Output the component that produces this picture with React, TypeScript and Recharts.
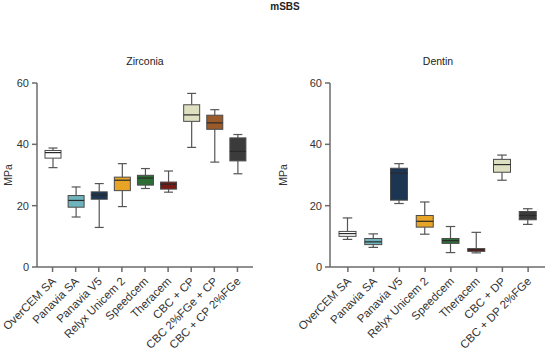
import React from 'react';
import { BarChart, Bar, XAxis, YAxis, Label } from 'recharts';

const zirconiaCategories = ['OverCEM SA', 'Panavia SA', 'Panavia V5', 'Relyx Unicem 2', 'Speedcem', 'Theracem', 'CBC + CP', 'CBC 2%FGe + CP', 'CBC + CP 2%FGe'];
const zirconiaMin = [32.4, 16.3, 12.9, 19.7, 25.6, 24.4, 39.0, 34.2, 30.4];
const zirconiaQ1 = [35.5, 19.5, 22.1, 24.9, 26.7, 25.4, 47.5, 44.9, 34.6];
const zirconiaMedian = [37.3, 21.7, 23.5, 28.3, 29.0, 27.0, 49.6, 47.0, 37.7];
const zirconiaQ3 = [38.0, 23.3, 24.5, 29.3, 29.9, 27.7, 52.9, 49.5, 42.1];
const zirconiaMax = [38.8, 26.1, 27.2, 33.7, 32.1, 31.3, 56.6, 51.3, 43.2];
const zirconiaColors = ['#ffffff', '#6fb3bd', '#1c3553', '#e8a426', '#2d6e35', '#7a1a14', '#dfdfc2', '#9a5a2a', '#3b3b3b'];

const dentinCategories = ['OverCEM SA', 'Panavia SA', 'Panavia V5', 'Relyx Unicem 2', 'Speedcem', 'Theracem', 'CBC + DP', 'CBC + DP 2%FGe'];
const dentinMin = [9.0, 6.4, 20.7, 10.7, 4.7, 4.6, 28.3, 13.9];
const dentinQ1 = [10.0, 7.3, 21.8, 13.0, 7.7, 5.1, 30.9, 15.4];
const dentinMedian = [10.9, 8.2, 30.6, 14.9, 8.6, 5.6, 33.4, 16.8];
const dentinQ3 = [11.6, 9.3, 32.2, 16.8, 9.3, 6.0, 35.1, 18.1];
const dentinMax = [16.0, 10.8, 33.7, 21.2, 13.2, 11.3, 36.5, 19.0];
const dentinColors = ['#ffffff', '#6fb3bd', '#1c3553', '#e8a426', '#2d6e35', '#7a1a14', '#dfdfc2', '#3b3b3b'];

const yTicks = [0, 20, 40, 60];

const build = (cats: string[], mn: number[], q1: number[], md: number[], q3: number[], mx: number[], cols: string[]) =>
  cats.map((name, i) => ({ name, min: mn[i], q1: q1[i], median: md[i], q3: q3[i], max: mx[i], color: cols[i] }));

const zirconiaData = build(zirconiaCategories, zirconiaMin, zirconiaQ1, zirconiaMedian, zirconiaQ3, zirconiaMax, zirconiaColors);
const dentinData = build(dentinCategories, dentinMin, dentinQ1, dentinMedian, dentinQ3, dentinMax, dentinColors);

const FONT = '"Liberation Sans", Arial, Helvetica, sans-serif';
const AXIS = '#6b6b6b';

const BoxShape = (props: any) => {
  const { x, y, width, height, payload } = props;
  const { min, q1, median, q3, max, color } = payload;
  const top = Math.min(y, y + height);
  const h = Math.abs(height);
  const k = h / (max - min);
  const py = (v: number) => top + (max - v) * k;
  const cx = x + width / 2;
  const cap = width * 0.28;
  const wc = '#555';
  return (
    <g>
      <line x1={cx} x2={cx} y1={py(max)} y2={py(q3)} stroke={wc} strokeWidth={1.2} />
      <line x1={cx} x2={cx} y1={py(q1)} y2={py(min)} stroke={wc} strokeWidth={1.2} />
      <line x1={cx - cap} x2={cx + cap} y1={py(max)} y2={py(max)} stroke={wc} strokeWidth={1.2} />
      <line x1={cx - cap} x2={cx + cap} y1={py(min)} y2={py(min)} stroke={wc} strokeWidth={1.2} />
      <rect x={x} y={py(q3)} width={width} height={py(q1) - py(q3)} fill={color} stroke="#4a4a4a" strokeWidth={1} />
      <line x1={x} x2={x + width} y1={py(median)} y2={py(median)} stroke="#2a2a2a" strokeWidth={1.2} />
    </g>
  );
};

const RotTick = (props: any) => {
  const { x, y, payload } = props;
  const ax = x + 4;
  const ay = y + 8;
  return (
    <text x={ax} y={ay} transform={`rotate(-45 ${ax} ${ay})`} textAnchor="end" fontSize={11.5} fill="#333" fontFamily={FONT}>
      {payload.value}
    </text>
  );
};

const MpaLabel = (props: any) => {
  const vb = props.viewBox || {};
  const cx = vb.x + 8;
  const cy = vb.y + vb.height / 2;
  return (
    <text x={cx} y={cy} transform={`rotate(-90 ${cx} ${cy})`} textAnchor="middle" dominantBaseline="central" fontSize={10.5} fill="#333" fontFamily={FONT}>
      MPa
    </text>
  );
};

const Panel = ({ data, yWidth, rightMargin, barSize, padL, padR }: any) => (
  <BarChart width={275} height={350} data={data} margin={{ top: 83, right: rightMargin, bottom: 0, left: 0 }}>
    <YAxis
      domain={[0, 60]}
      ticks={yTicks}
      width={yWidth}
      tickSize={5}
      tickMargin={3}
      stroke={AXIS}
      strokeWidth={1.5}
      tick={{ fontSize: 11, fill: '#333', fontFamily: FONT }}
      allowDataOverflow
    >
      <Label content={<MpaLabel />} />
    </YAxis>
    <XAxis
      dataKey="name"
      interval={0}
      height={83}
      tickSize={5}
      stroke={AXIS}
      strokeWidth={1.5}
      padding={{ left: padL, right: padR }}
      tick={<RotTick />}
    />
    <Bar dataKey={(d: any) => [d.min, d.max]} barSize={barSize} shape={<BoxShape />} isAnimationActive={false} />
  </BarChart>
);

export default function App() {
  return (
    <div style={{ position: 'fixed', left: 0, top: 0, width: 550, height: 350, background: '#fff', fontFamily: FONT, overflow: 'hidden' }}>
      <div style={{ position: 'absolute', left: 235, width: 100, top: 1, textAlign: 'center', fontWeight: 'bold', fontSize: 10, color: '#222' }}>mSBS</div>
      <div style={{ position: 'absolute', left: 95, width: 100, top: 55, textAlign: 'center', fontSize: 10.5, color: '#222' }}>Zirconia</div>
      <div style={{ position: 'absolute', left: 388, width: 100, top: 55, textAlign: 'center', fontSize: 10.5, color: '#222' }}>Dentin</div>
      <div style={{ position: 'absolute', left: 0, top: 0 }}>
        <Panel data={zirconiaData} yWidth={37} rightMargin={22} barSize={16} padL={4} padR={4} />
      </div>
      <div style={{ position: 'absolute', left: 275, top: 0 }}>
        <Panel data={dentinData} yWidth={55} rightMargin={5} barSize={17} padL={5} padR={4} />
      </div>
    </div>
  );
}
